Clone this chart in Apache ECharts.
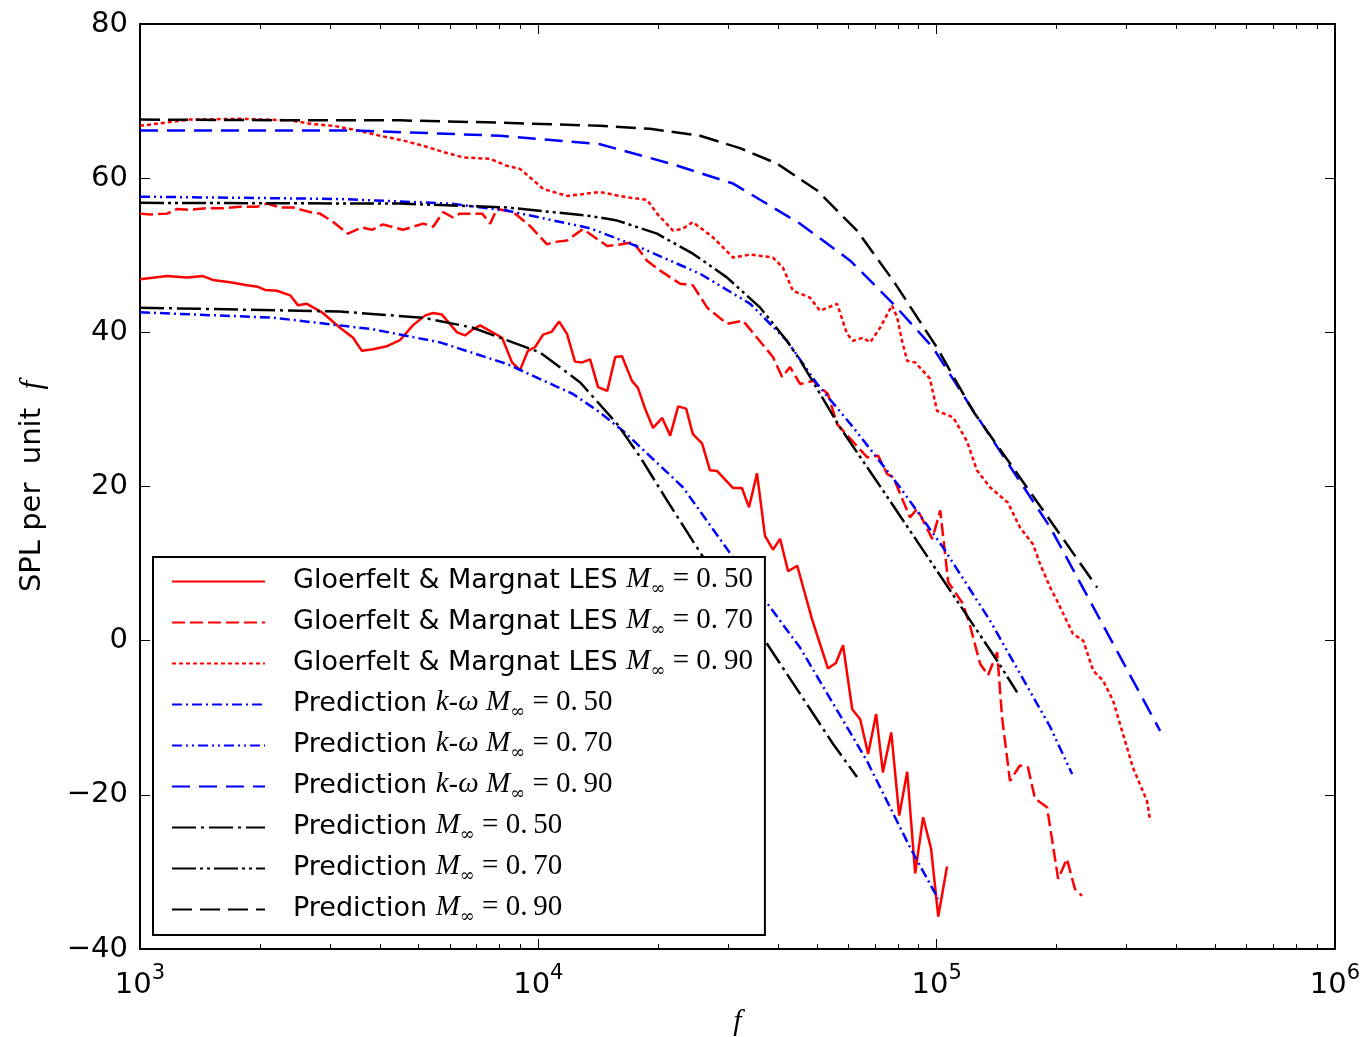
<!DOCTYPE html>
<html>
<head>
<meta charset="utf-8">
<script src="https://cdn.jsdelivr.net/npm/echarts@6/dist/echarts.min.js"></script>
<style>
  html, body { margin: 0; padding: 0; background: #fff; }
  #chart { width: 1363px; height: 1037px; }
</style>
</head>
<body>
<div id="chart"></div>
<script>
// each point is [log10(f), SPL]
let lesM050 = [[3.000,46.9],[3.068,47.3],[3.118,47.1],[3.158,47.3],[3.183,46.8],[3.226,46.5],[3.269,46.1],[3.296,45.9],[3.314,45.5],[3.344,45.4],[3.377,44.8],[3.397,43.5],[3.419,43.7],[3.457,42.6],[3.502,40.6],[3.535,39.3],[3.557,37.6],[3.585,37.8],[3.620,38.2],[3.653,39.0],[3.685,40.9],[3.716,42.2],[3.736,42.5],[3.758,42.3],[3.796,40.0],[3.816,39.6],[3.836,40.4],[3.854,40.9],[3.909,39.3],[3.934,36.1],[3.954,35.1],[3.974,37.6],[3.992,38.1],[4.012,39.7],[4.034,40.1],[4.052,41.4],[4.072,39.8],[4.092,36.2],[4.110,36.1],[4.130,36.5],[4.150,32.9],[4.173,32.4],[4.193,36.8],[4.210,36.9],[4.235,33.7],[4.250,32.8],[4.268,30.1],[4.288,27.6],[4.311,28.9],[4.331,26.6],[4.351,30.4],[4.371,30.1],[4.388,26.8],[4.411,25.6],[4.431,22.1],[4.449,22.0],[4.489,19.8],[4.511,19.8],[4.529,17.3],[4.549,21.7],[4.569,13.6],[4.589,11.8],[4.607,13.2],[4.627,9.0],[4.650,9.7],[4.665,6.9],[4.687,2.8],[4.707,-0.4],[4.727,-3.6],[4.747,-2.9],[4.765,-0.6],[4.788,-8.9],[4.808,-10.2],[4.828,-14.7],[4.848,-9.5],[4.865,-17.1],[4.886,-11.9],[4.906,-22.7],[4.926,-17.0],[4.946,-30.2],[4.966,-22.9],[4.986,-27.0],[5.004,-35.8],[5.026,-29.3]];

let lesM070 = [[3.000,55.4],[3.025,55.3],[3.068,55.4],[3.093,56.0],[3.126,55.9],[3.168,56.1],[3.208,56.1],[3.251,56.3],[3.294,56.3],[3.319,56.7],[3.352,56.2],[3.384,56.2],[3.427,55.6],[3.452,55.4],[3.485,54.3],[3.522,52.8],[3.557,53.6],[3.582,53.3],[3.610,54.0],[3.660,53.3],[3.711,54.1],[3.736,53.7],[3.761,55.6],[3.786,54.9],[3.803,55.4],[3.859,55.4],[3.879,54.1],[3.896,56.0],[3.937,55.6],[3.979,53.8],[4.022,51.4],[4.037,51.7],[4.072,51.9],[4.112,53.4],[4.173,51.2],[4.205,51.4],[4.238,51.7],[4.273,49.3],[4.306,48.0],[4.356,46.3],[4.388,46.1],[4.424,43.2],[4.474,41.1],[4.514,41.5],[4.589,36.8],[4.612,34.2],[4.632,35.5],[4.657,33.3],[4.690,33.7],[4.727,32.0],[4.750,28.1],[4.825,23.8],[4.853,24.0],[4.876,21.6],[4.891,21.2],[4.933,16.0],[4.951,17.1],[4.989,13.2],[5.009,16.9],[5.029,7.6],[5.066,4.8],[5.084,1.9],[5.109,-3.0],[5.129,-4.5],[5.152,-1.5],[5.164,-9.9],[5.184,-18.2],[5.209,-16.2],[5.229,-16.4],[5.247,-20.5],[5.277,-21.6],[5.305,-30.9],[5.327,-28.3],[5.347,-32.2],[5.365,-33.1]];

let lesM090 = [[3.000,66.8],[3.126,67.6],[3.251,67.7],[3.377,67.5],[3.434,67.0],[3.485,66.8],[3.545,66.2],[3.603,65.5],[3.660,64.9],[3.711,64.2],[3.761,63.4],[3.811,62.7],[3.879,62.5],[3.921,61.6],[3.954,61.2],[3.997,59.3],[4.012,58.6],[4.072,57.7],[4.155,58.2],[4.223,57.5],[4.273,57.2],[4.298,55.4],[4.338,53.2],[4.361,53.4],[4.388,54.3],[4.439,52.3],[4.489,49.7],[4.532,50.1],[4.589,49.7],[4.614,48.4],[4.639,45.4],[4.682,44.5],[4.707,42.8],[4.750,43.7],[4.775,39.8],[4.790,38.9],[4.815,39.3],[4.833,38.7],[4.858,40.6],[4.888,43.5],[4.901,41.9],[4.913,38.9],[4.926,36.3],[4.946,36.1],[4.983,34.0],[5.001,29.8],[5.041,29.0],[5.076,25.9],[5.101,22.1],[5.134,19.9],[5.179,17.9],[5.209,14.7],[5.242,12.5],[5.260,9.9],[5.285,6.9],[5.302,5.2],[5.342,0.9],[5.368,0.0],[5.393,-3.9],[5.418,-5.2],[5.443,-7.8],[5.493,-16.5],[5.528,-20.8],[5.536,-23.4]];

let kwM050 = [[3.000,42.6],[3.334,41.9],[3.585,40.4],[3.753,38.7],[3.921,35.9],[4.087,32.0],[4.155,29.6],[4.213,27.2],[4.363,19.9],[4.489,10.8],[4.657,-0.9],[4.825,-15.6],[4.933,-26.8],[5.004,-33.5]];
let kwM070 = [[3.000,57.6],[3.502,57.3],[3.778,56.7],[3.921,55.8],[4.130,53.5],[4.256,51.0],[4.406,47.6],[4.532,43.7],[4.624,38.9],[4.700,33.3],[4.790,27.7],[4.908,19.9],[5.016,12.1],[5.134,2.6],[5.285,-11.2],[5.340,-17.3]];
let kwM090 = [[3.000,66.2],[3.535,66.2],[3.904,65.5],[4.155,64.4],[4.338,61.8],[4.489,59.3],[4.657,54.1],[4.783,49.3],[4.891,43.7],[4.991,38.0],[5.076,31.1],[5.285,14.7],[5.561,-11.7]];

let predM050 = [[3.000,43.2],[3.502,42.7],[3.711,41.9],[3.836,40.6],[4.004,37.4],[4.105,33.5],[4.198,28.1],[4.256,23.8],[4.323,18.2],[4.424,10.0],[4.574,-0.4],[4.740,-13.4],[4.800,-17.7]];
let predM070 = [[3.000,56.8],[3.653,56.7],[3.921,56.2],[4.130,55.1],[4.198,54.5],[4.298,52.8],[4.388,50.2],[4.474,47.1],[4.557,43.2],[4.624,38.9],[4.657,36.4],[4.757,27.7],[4.865,19.5],[5.034,6.5],[5.152,-2.6],[5.202,-6.7]];
let predM090 = [[3.000,67.6],[3.402,67.5],[3.653,67.5],[3.904,67.2],[4.155,66.8],[4.280,66.4],[4.406,65.5],[4.506,63.9],[4.599,61.9],[4.700,58.4],[4.800,53.2],[4.891,46.7],[5.001,38.0],[5.091,29.8],[5.285,15.6],[5.403,6.9]];

let xDecades = [3, 4, 5, 6];
let yTicks = [-40, -20, 0, 20, 40, 60, 80];

let names = [
  'Gloerfelt & Margnat LES M=0.50', 'Gloerfelt & Margnat LES M=0.70', 'Gloerfelt & Margnat LES M=0.90',
  'Prediction k-w M=0.50', 'Prediction k-w M=0.70', 'Prediction k-w M=0.90',
  'Prediction M=0.50', 'Prediction M=0.70', 'Prediction M=0.90'
];
let legendText = [
  '{p|Gloerfelt & Margnat LES }{m|M}{s|∞}{n| = 0.\u200950}',
  '{p|Gloerfelt & Margnat LES }{m|M}{s|∞}{n| = 0.\u200970}',
  '{p|Gloerfelt & Margnat LES }{m|M}{s|∞}{n| = 0.\u200990}',
  '{p|Prediction }{m|k}{t|-}{m|ω }{m|M}{s|∞}{n| = 0.\u200950}',
  '{p|Prediction }{m|k}{t|-}{m|ω }{m|M}{s|∞}{n| = 0.\u200970}',
  '{p|Prediction }{m|k}{t|-}{m|ω }{m|M}{s|∞}{n| = 0.\u200990}',
  '{p|Prediction }{m|M}{s|∞}{n| = 0.\u200950}',
  '{p|Prediction }{m|M}{s|∞}{n| = 0.\u200970}',
  '{p|Prediction }{m|M}{s|∞}{n| = 0.\u200990}'
];
let data = [lesM050, lesM070, lesM090, kwM050, kwM070, kwM090, predM050, predM070, predM090];
let colors = ['#ff0000', '#ff0000', '#ff0000', '#0000ff', '#0000ff', '#0000ff', '#000000', '#000000', '#000000'];
let dashes = ['solid', [13, 5], [4, 3],
              [10, 4, 2, 4], [10, 4, 2, 4, 2, 4], [18, 9],
              [24, 5, 3, 5], [24, 4, 3, 4, 3, 4], [20, 8]];

// minor tick positions for the log axis (2..9 in every decade)
let minorTicks = [];
for (let d = 3; d < 6; d++) {
  for (let k = 2; k <= 9; k++) minorTicks.push(d + Math.log10(k));
}

let frame = { show: true, onZero: false, lineStyle: { color: '#000', width: 2 } };

let series = data.map(function (pts, i) {
  return {
    name: names[i],
    type: 'line',
    xAxisIndex: 0,
    yAxisIndex: 0,
    symbol: 'none',
    smooth: false,
    animation: false,
    lineStyle: { color: colors[i], width: 2.5, type: dashes[i] },
    itemStyle: { color: colors[i] },
    data: pts.map(function (p) { return [Math.pow(10, p[0]), p[1]]; })
  };
});

function tickOnlyAxis(pos, len, values, showLine) {
  return {
    type: 'value', position: pos, min: 3, max: 6,
    axisLine: { show: !!showLine, onZero: false, lineStyle: { color: '#000', width: 2 } },
    axisTick: { show: true, inside: true, length: len, customValues: values, lineStyle: { color: '#000', width: 1 } },
    axisLabel: { show: false },
    splitLine: { show: false }
  };
}

let option = {
  backgroundColor: '#fff',
  animation: false,
  grid: { left: 140, right: 28, top: 24, bottom: 88, containLabel: false, outerBoundsMode: 'none' },
  legend: {
    orient: 'vertical',
    left: 153,
    top: 557,
    data: names,
    itemWidth: 93,
    itemHeight: 14,
    itemGap: 8,
    padding: [8, 12, 9, 18],
    backgroundColor: '#fff',
    borderColor: '#000',
    borderWidth: 2,
    borderRadius: 0,
    itemStyle: { color: 'rgba(0,0,0,0)', borderWidth: 0, opacity: 0 },
    formatter: function (name) { return legendText[names.indexOf(name)]; },
    textStyle: {
      color: '#000',
      rich: {
        p: { fontFamily: 'DejaVu Sans', fontSize: 27, color: '#000', verticalAlign: 'bottom', padding: [0, 0, 4, 23] },
        t: { fontFamily: 'DejaVu Sans', fontSize: 27, color: '#000', verticalAlign: 'bottom', padding: [0, 0, 4, 0] },
        m: { fontFamily: 'Liberation Serif', fontStyle: 'italic', fontSize: 29, color: '#000', verticalAlign: 'bottom', padding: [0, 0, 4, 0] },
        s: { fontFamily: 'DejaVu Serif', fontSize: 18, color: '#000', verticalAlign: 'bottom', padding: [0, 0, 0, 0] },
        n: { fontFamily: 'Liberation Serif', fontSize: 29, color: '#000', verticalAlign: 'bottom', padding: [0, 0, 4, 0] }
      }
    }
  },
  xAxis: [
    {
      type: 'log', logBase: 10, min: 1000, max: 1000000, position: 'bottom',
      name: 'f', nameLocation: 'middle', nameGap: 58,
      nameTextStyle: { fontFamily: 'Liberation Serif', fontStyle: 'italic', fontSize: 30, color: '#000' },
      axisLine: frame,
      axisTick: { show: true, inside: true, length: 10, lineStyle: { color: '#000', width: 1 } },
      axisLabel: {
        margin: 14,
        formatter: function (v) { return '{b|10}{s|' + Math.round(Math.log10(v)) + '}'; },
        rich: {
          b: { fontFamily: 'DejaVu Sans', fontSize: 29, color: '#000', verticalAlign: 'bottom' },
          s: { fontFamily: 'DejaVu Sans', fontSize: 21, color: '#000', verticalAlign: 'bottom', padding: [0, 0, 16, 0] }
        }
      },
      splitLine: { show: false }
    },
    tickOnlyAxis('bottom', 5, minorTicks, false),
    tickOnlyAxis('top', 10, xDecades, true),
    tickOnlyAxis('top', 5, minorTicks, false)
  ],
  yAxis: [
    {
      type: 'value', min: -40, max: 80, interval: 20, position: 'left',
      name: 'SPL per  unit  {i|f}', nameLocation: 'middle', nameGap: 92, nameRotate: 90,
      nameTextStyle: {
        fontFamily: 'DejaVu Sans', fontSize: 29, color: '#000',
        rich: { i: { fontFamily: 'Liberation Serif', fontStyle: 'italic', fontSize: 31, color: '#000' } }
      },
      axisLine: frame,
      axisTick: { show: true, inside: true, length: 10, lineStyle: { color: '#000', width: 1 } },
      axisLabel: {
        margin: 12, fontFamily: 'DejaVu Sans', fontSize: 29, color: '#000',
        formatter: function (v) { return v < 0 ? '\u2212' + Math.abs(v) : String(v); }
      },
      splitLine: { show: false }
    },
    {
      type: 'value', min: -40, max: 80, interval: 20, position: 'right',
      axisLine: frame,
      axisTick: { show: true, inside: true, length: 10, lineStyle: { color: '#000', width: 1 } },
      axisLabel: { show: false },
      splitLine: { show: false }
    }
  ],
  series: series
};

let myChart = echarts.init(document.getElementById('chart'));
myChart.setOption(option);
window.addEventListener('resize', function () { myChart.resize(); }, false);
</script>
</body>
</html>
